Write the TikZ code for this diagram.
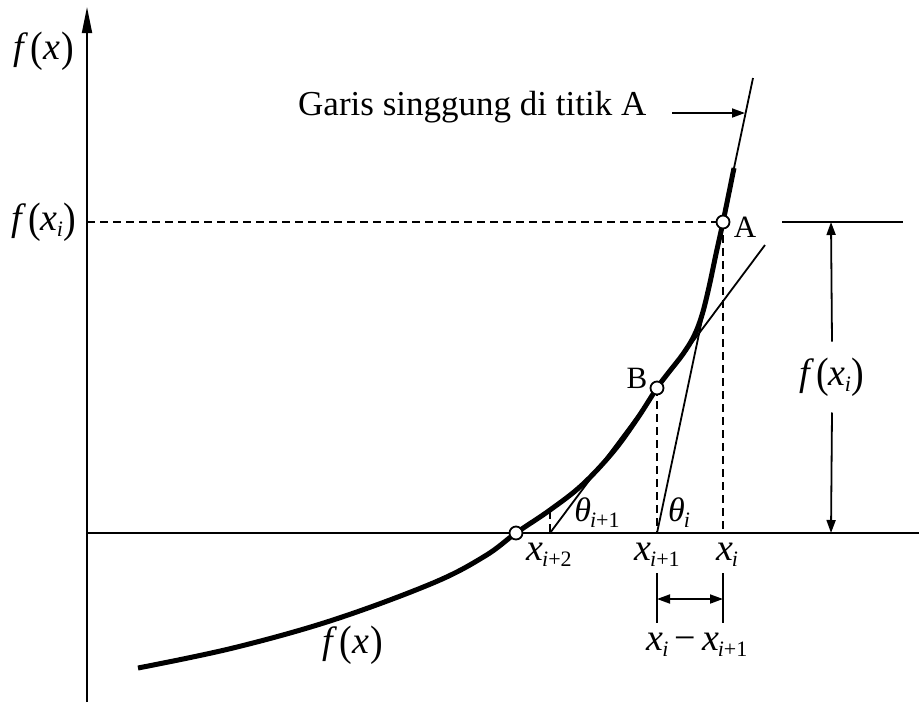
\documentclass[tikz,border=0pt]{standalone}
\usepackage{fontspec}
\setmainfont{Liberation Serif}[ItalicFont={Liberation Serif Italic}]
\usetikzlibrary{arrows.meta}
\newcommand\Mf{\fontsize{38}{40}\selectfont}
\newcommand\Tf{\fontsize{34}{36}\selectfont}
\newcommand\Sf{\fontsize{22}{24}\selectfont}
\newcommand\Lf{\fontsize{31}{33}\selectfont}
\newcommand\sbs[1]{\raisebox{-6pt}{\Sf #1}}
\newcommand\lp{\raisebox{-1.5pt}{\scalebox{1}[1.12]{(}}}
\newcommand\rp{\raisebox{-1.5pt}{\scalebox{1}[1.12]{)}}}
\newcommand\fx{\Mf\textit{f}\kern2pt\lp\textit{x}\kern1pt\rp}
\newcommand\fxi{\Mf\textit{f}\kern2pt\lp\textit{x}\kern-1pt\sbs{\textit{i}}\kern1pt\rp}
\begin{document}
\begin{tikzpicture}[x=1pt,y=-1pt,
  thinline/.style={line width=1.8pt},
  curveline/.style={line width=5pt},
  dashline/.style={line width=1.5pt,dash pattern=on 8pt off 5pt},
  ptc/.style={circle,draw,fill=white,line width=1.8pt,inner sep=0pt,minimum size=13pt},
  lbl/.style={inner sep=0pt},
  arr/.style={-{Triangle[length=13pt,width=9pt]}},
  darr/.style={{Triangle[length=13pt,width=9pt]}-{Triangle[length=13pt,width=9pt]}}]
\useasboundingbox (0,0) rectangle (919,702);
% coordinates
\coordinate (a) at (723,222);
\coordinate (b) at (657,388);
\coordinate (r) at (516,533);
\coordinate (ybot) at (87,702);
\coordinate (ytop) at (87,7);
\coordinate (xl) at (87,533);
\coordinate (xr) at (919,533);
\coordinate (yA) at (87,222);
\coordinate (xi) at (723,533);
\coordinate (xi1) at (657,533);
\coordinate (xi2) at (550,533);
\coordinate (c2) at (550,511);
\coordinate (tAt) at (753,78);
\coordinate (tBt) at (765,245);
\coordinate (h1) at (782,222);
\coordinate (h2) at (903,222);
\coordinate (dt) at (831,222);
\coordinate (db) at (831,533);
\coordinate (t1a) at (657,573);
\coordinate (t1b) at (657,623);
\coordinate (t2a) at (723,573);
\coordinate (t2b) at (723,623);
\coordinate (m1) at (657,599);
\coordinate (m2) at (723,599);
\coordinate (g1) at (672,113);
\coordinate (g2) at (745,113);
% axes
\draw[thinline,-{Triangle[length=26pt,width=10pt]}] (ybot) -- (ytop);
\draw[thinline] (xl) -- (xr);
% dashed helpers
\draw[dashline] (yA) -- (a);
\draw[dashline] (a) -- (xi);
\draw[dashline] (b) -- (xi1);
\draw[dashline] (c2) -- (xi2);
% tangents
\draw[thinline] (xi1) -- (tAt);
\draw[thinline] (xi2) -- (tBt);
% curve
\draw[curveline] plot[smooth,tension=0.6] coordinates {(138,668) (233,648) (333,620) (433,583) (485,556) (516,533) (550,510) (582,485) (613,452) (637,419) (657,388) (669,372) (683,354) (694,336) (702,315) (709,287) (716,254) (723,222) (734,168)};
% points
\node[ptc] (A) at (a) {};
\node[ptc] (B) at (b) {};
\node[ptc] (R) at (r) {};
% right dimension
\draw[thinline] (h1) -- (h2);
\node[lbl,inner ysep=16pt] (fr) at (832,377) {\fxi};
\draw[thinline,arr] (fr.north) -- (dt);
\draw[thinline,arr] (fr.south) -- (db);
% bottom dimension
\draw[thinline] (t1a) -- (t1b);
\draw[thinline] (t2a) -- (t2b);
\draw[thinline,darr] (m1) -- (m2);
\node[lbl] (dx) at (697,645) {\Mf\textit{x}\kern-1pt\sbs{\textit{i}}\kern6pt−\kern6pt\textit{x}\kern-1pt\sbs{\textit{i}+1}};
% tangent label
\node[lbl,anchor=base west] (gs) at (298,115) {\fontsize{35}{38}\selectfont Garis singgung di titik A};
\draw[thinline,arr] (g1) -- (g2);
% labels
\node[lbl] (fy) at (44,51) {\fx};
\node[lbl] (fyi) at (44,222) {\fxi};
\node[lbl] (fc) at (353,645) {\fx};
\node[lbl] (la) at (745,227) {\Lf A};
\node[lbl] (lb) at (637,378) {\Lf B};
\node[lbl] (lx2) at (549,555) {\Mf\textit{x}\kern-1pt\sbs{\textit{i}+2}};
\node[lbl] (lx1) at (657,555) {\Mf\textit{x}\kern-1pt\sbs{\textit{i}+1}};
\node[lbl] (lx0) at (727,555) {\Mf\textit{x}\kern-1pt\sbs{\textit{i}}};
\node[lbl] (th1) at (597,513) {\Tf\textit{θ}\kern-1pt\sbs{\textit{i}+1}};
\node[lbl] (th0) at (679,513) {\Tf\textit{θ}\kern-1pt\sbs{\textit{i}}};
\end{tikzpicture}
\end{document}
